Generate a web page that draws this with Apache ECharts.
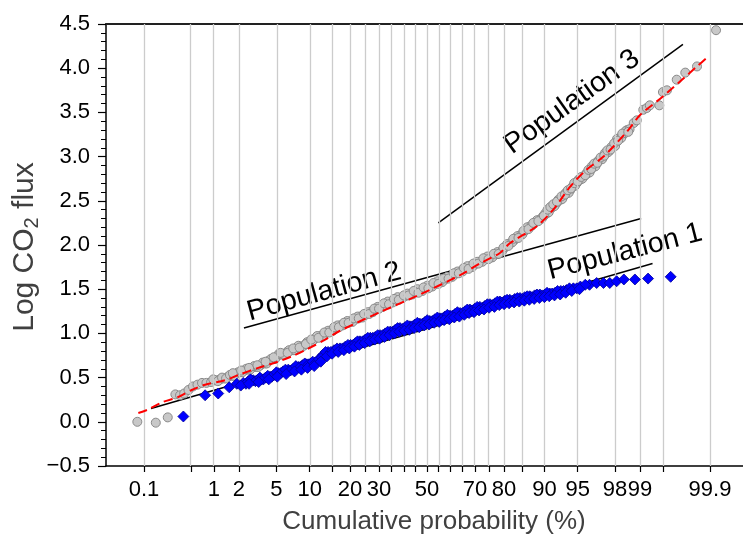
<!DOCTYPE html>
<html><head><meta charset="utf-8">
<script src="https://cdn.jsdelivr.net/npm/echarts@6/dist/echarts.min.js"></script>
<style>html,body{margin:0;padding:0;background:#fff}#c{width:743px;height:535px}</style>
</head><body><div id="c"></div>
<script>
// ---------- data ----------
const xTickLabels = ['0.1','1','2','5','10','20','30','50','70','80','90','95','98','99','99.9'];
const gridProbs = [0.1,0.5,1,2,5,10,15,20,25,30,35,40,45,50,55,60,65,70,75,80,85,90,95,98,99,99.5,99.9];
const xRangeProb = [0.0228, 99.972];
const yRange = [-0.5, 4.5];

// cumulative probability (%), log CO2 flux — all measurements
const grayData = [
 [0.078,0.00],[0.153,-0.01],[0.232,0.05],[0.30,0.31],[0.35,0.30],[0.40,0.32],[0.46,0.36],[0.53,0.40],
 [0.61,0.42],[0.70,0.44],[0.80,0.44],[0.92,0.45],[1.05,0.47],[1.19,0.48],[1.33,0.49],[1.49,0.51],
 [1.65,0.52],[1.85,0.54],[2.06,0.56],[2.3,0.58],[2.55,0.59],[2.8,0.61],[3.1,0.62],[3.45,0.64],
 [3.84,0.66],[4.2,0.69],[4.6,0.71],[5.07,0.74],[5.6,0.76],[6.3,0.79],[7.0,0.81],[7.7,0.83],
 [8.4,0.85],[9.1,0.87],[10.0,0.90],[11.0,0.94],[12.1,0.97],[13.4,1.00],[14.6,1.03],[15.8,1.06],
 [17.1,1.09],[18.5,1.11],[20.0,1.13],[21.6,1.16],[23.2,1.19],[25.0,1.21],[26.8,1.24],[28.6,1.27],
 [30.4,1.30],[32.4,1.33],[34.4,1.35],[36.4,1.38],[38.4,1.40],[40.5,1.42],[42.6,1.44],[44.7,1.47],
 [46.9,1.49],[49.1,1.51],[51.2,1.53],[53.4,1.56],[55.6,1.58],[57.7,1.61],[59.9,1.64],[62.0,1.67],
 [64.1,1.70],[66.1,1.73],[68.0,1.76],[69.9,1.78],[71.8,1.81],[73.6,1.84],[75.4,1.86],[77.1,1.89],
 [78.7,1.92],[80.2,1.97],[81.7,2.02],[83.1,2.06],[84.5,2.11],[85.7,2.16],[86.9,2.21],[88.0,2.25],
 [89.1,2.29],[89.8,2.33],[90.5,2.36],[91.0,2.40],[91.5,2.43],[92.1,2.47],[92.7,2.51],[93.2,2.55],
 [93.7,2.59],[94.1,2.62],[94.4,2.66],[94.9,2.70],[95.3,2.74],[95.7,2.78],[96.0,2.81],[96.3,2.85],
 [96.5,2.89],[96.8,2.92],[97.0,2.96],[97.3,3.00],[97.5,3.04],[97.7,3.07],[97.9,3.11],[98.05,3.16],
 [98.2,3.21],[98.4,3.25],[98.55,3.30],[98.8,3.38],[98.9,3.41],[99.09,3.53],[99.18,3.55],[99.25,3.58],
 [99.44,3.58],[99.50,3.73],[99.56,3.75],[99.68,3.87],[99.76,3.95],[99.84,4.02],[99.92,4.43],
 [0.98,0.48],[1.12,0.46],[1.26,0.50],[1.41,0.49],[1.57,0.53],[1.75,0.52],[1.95,0.56],[2.18,0.56],
 [2.42,0.60],[2.67,0.59],[2.95,0.63],[3.27,0.62],[3.64,0.67],[4.0,0.66],[4.4,0.71],[4.85,0.71],
 [5.3,0.77],[5.9,0.76],[6.6,0.81],[7.3,0.81],[8.0,0.86],[8.7,0.85],[9.5,0.90],[10.5,0.91],
 [11.5,0.97],[12.7,0.97],[14.0,1.03],[15.2,1.03],[16.4,1.09],[17.8,1.09],[19.2,1.14],[20.8,1.13],
 [22.4,1.19],[24.1,1.18],[25.9,1.24],[27.7,1.24],[29.5,1.30],[31.4,1.30],[33.4,1.36],[35.4,1.35],
 [37.4,1.41],[39.4,1.40],[41.5,1.45],[43.6,1.44],[45.8,1.50],[48.0,1.48],[50.1,1.54],[52.3,1.53],
 [54.5,1.59],[56.6,1.58],[58.8,1.64],[60.9,1.64],[63.0,1.70],[65.1,1.70],[67.0,1.76],[68.9,1.75],
 [70.8,1.81],[72.7,1.81],[74.5,1.87],[76.2,1.86],[77.9,1.92],[79.4,1.93],[80.9,2.01],[82.4,2.03],
 [83.8,2.10],[85.1,2.12],[86.3,2.20],[87.4,2.22],[88.5,2.28],[89.5,2.30],[90.2,2.36],[90.8,2.37],
 [91.3,2.43],[91.8,2.44],[92.4,2.51],[93.0,2.52],[93.5,2.59],[93.9,2.59],[94.3,2.65],[94.7,2.67],
 [95.1,2.74],[95.5,2.75],[95.9,2.81],[96.2,2.82],[96.4,2.89],[96.7,2.89],[96.9,2.95],[97.2,2.97],
 [97.4,3.04],[97.6,3.05],[97.8,3.11],[98.0,3.12],[98.1,3.20],[98.3,3.21],[98.5,3.29],[98.65,3.31],
 [1.7,0.55],[2.12,0.58],[2.6,0.61],[3.2,0.64],[3.9,0.68],[4.7,0.73],[5.5,0.78],[6.4,0.78],
 [7.2,0.83],[8.2,0.84],[9.3,0.88],[10.3,0.93],[11.8,0.95],[13.1,1.01],[14.3,1.01],[15.5,1.07],
 [16.8,1.07],[18.2,1.12],[19.6,1.12],[21.2,1.17],[22.8,1.17],[24.6,1.22],[26.4,1.22],[28.2,1.28],
 [30.0,1.28],[31.9,1.34],[33.9,1.33],[35.9,1.39],[37.9,1.38],[40.0,1.43],[42.1,1.43],[44.2,1.48],
 [46.3,1.46],[48.5,1.52],[50.6,1.51],[52.8,1.57],[55.0,1.56],[57.2,1.62],[59.3,1.62],[61.5,1.68],
 [63.6,1.68],[65.6,1.74],[67.5,1.73],[69.4,1.79],[71.3,1.79],[73.1,1.85],[74.9,1.84],[76.7,1.90],
 [78.3,1.90],[79.8,1.97],[81.3,1.99],[82.7,2.07],[84.1,2.08],[85.4,2.16],[86.6,2.18],[87.7,2.25],
 [88.8,2.27],[89.9,2.33],[90.6,2.40],[91.1,2.43],[91.6,2.46],[92.2,2.49],[92.9,2.55],[93.4,2.57],
 [93.8,2.62],[94.2,2.64],[94.6,2.70],[95.0,2.72],[95.4,2.77],[95.8,2.79],[96.1,2.85],[96.35,2.86],
 [96.6,2.92],[96.85,2.93],[97.1,2.99],[97.35,3.01],[97.55,3.07],[97.75,3.08],[97.95,3.15],[98.15,3.18],
 [98.35,3.26],[98.6,3.28]
];
// Population 1 measurements
const blueData = [
 [0.39,0.06],[0.77,0.30],[1.13,0.32],[1.54,0.39],[1.89,0.43],[2.24,0.44],[2.55,0.46],[2.89,0.47],
 [3.2,0.47],[3.55,0.48],[3.9,0.50],[4.33,0.51],[4.75,0.53],[5.22,0.55],[5.8,0.57],[6.49,0.59],
 [7.2,0.60],[7.99,0.62],[8.7,0.64],[9.44,0.65],[10.2,0.66],[11.07,0.67],[11.6,0.69],[12.1,0.71],
 [12.86,0.76],[14.0,0.79],[15.5,0.81],[17.1,0.83],[18.6,0.85],[20.2,0.87],[21.7,0.89],[23.2,0.91],
 [25.0,0.93],[26.8,0.95],[28.6,0.96],[30.4,0.98],[32.4,1.00],[34.4,1.02],[36.4,1.04],[38.4,1.06],
 [40.5,1.07],[42.6,1.08],[44.7,1.10],[46.9,1.11],[49.1,1.13],[51.2,1.14],[53.4,1.16],[55.6,1.17],
 [57.7,1.19],[59.9,1.20],[62.0,1.22],[64.1,1.23],[66.1,1.25],[68.0,1.27],[69.9,1.28],[71.8,1.30],
 [73.6,1.31],[75.4,1.33],[77.1,1.34],[78.7,1.36],[80.2,1.37],[81.7,1.38],[83.1,1.39],[84.5,1.40],
 [85.7,1.41],[86.9,1.42],[88.0,1.43],[89.1,1.44],[90.1,1.44],[91.0,1.45],[91.9,1.46],[92.8,1.48],
 [93.6,1.49],[94.5,1.51],[95.3,1.53],[96.2,1.55],[96.8,1.57],[97.3,1.57],[97.7,1.57],[98.08,1.59],
 [98.42,1.61],[98.84,1.61],[99.21,1.62],[99.61,1.64],
 [2.4,0.43],[2.7,0.48],[3.05,0.46],[3.4,0.50],[3.7,0.48],[4.1,0.52],[4.5,0.51],[5.0,0.56],
 [5.5,0.55],[6.1,0.59],[6.8,0.58],[7.6,0.63],[8.3,0.62],[9.1,0.66],[9.8,0.65],[10.6,0.68],
 [11.3,0.67],[11.9,0.71],[12.5,0.73],[13.4,0.79],[14.7,0.79],[16.3,0.83],[17.8,0.83],[19.4,0.87],
 [21.0,0.87],[22.4,0.91],[24.1,0.91],[25.9,0.95],[27.7,0.95],[29.5,0.98],[31.4,0.98],[33.4,1.02],
 [35.4,1.02],[37.4,1.06],[39.4,1.05],[41.5,1.09],[43.6,1.08],[45.8,1.12],[48.0,1.11],[50.1,1.15],
 [52.3,1.14],[54.5,1.18],[56.6,1.17],[58.8,1.21],[60.9,1.20],[63.0,1.24],[65.1,1.23],[67.0,1.27],
 [68.9,1.26],[70.8,1.30],[72.7,1.29],[74.5,1.33],[76.2,1.32],[77.9,1.36],[79.4,1.35],[80.9,1.38],
 [82.4,1.37],[83.8,1.40],[85.1,1.39],[86.3,1.42],[87.4,1.41],[88.5,1.44],[89.6,1.43],[90.5,1.46],
 [91.4,1.45],[92.3,1.48],[93.2,1.48],[94.0,1.51],[94.9,1.51],[95.8,1.55],
 [2.1,0.41],[2.6,0.43],[3.3,0.45],[4.2,0.48],[5.1,0.51],[6.2,0.54],[7.4,0.57],[8.5,0.59],
 [9.6,0.61],[10.9,0.63],[12.3,0.68],[13.7,0.74],[15.0,0.77],[16.6,0.79],[18.2,0.81],[19.8,0.83],
 [21.4,0.85],[23.0,0.87],[24.8,0.89],[26.6,0.91],[28.4,0.93],[30.2,0.94],[32.1,0.96],[34.1,0.98],
 [36.1,1.00],[38.1,1.02],[40.2,1.03],[42.3,1.04],[44.4,1.06],[46.6,1.07],[48.8,1.09],[50.9,1.10],
 [53.1,1.12],[55.3,1.13],[57.4,1.15],[59.6,1.16],[61.7,1.18],[63.8,1.19],[65.8,1.21],[67.7,1.23],
 [69.6,1.24],[71.5,1.26],[73.3,1.27],[75.1,1.29],[76.9,1.30],[78.5,1.32],[80.0,1.33],[81.5,1.34],
 [82.9,1.35],[84.3,1.36],[85.6,1.37],[86.8,1.38],[87.9,1.39],[89.0,1.40],[90.0,1.41],[90.9,1.42],
 [91.8,1.43],[92.7,1.44],[93.5,1.46],[94.3,1.48],[95.2,1.50]
];
// fitted mixture curve (red dashed)
const fitCurve = [
 [0.081,0.10],[0.117,0.14],[0.19,0.22],[0.33,0.28],[0.51,0.36],[0.77,0.42],[1.37,0.47],[1.97,0.53],
 [3.27,0.61],[5.2,0.68],[6.97,0.74],[9.15,0.81],[13.3,0.93],[17.1,1.03],[30.4,1.24],[46.9,1.44],
 [64.1,1.66],[71.8,1.79],[78.7,1.91],[81.7,2.02],[88.4,2.21],[91.6,2.40],[94.1,2.66],[95.9,2.85],
 [97.3,3.00],[98.6,3.30],[99.0,3.47],[99.5,3.68],[99.84,4.02],[99.893,4.13]
];
const pop1Line = [[0.129,0.15],[99.31,1.79]];
const pop2Line = [[2.28,1.06],[99.03,2.30]];
const pop3Line = [[54.9,2.25],[99.74,4.27]];
const popLabels = ['Population 1','Population 2','Population 3'];

// ---------- probability scale (inverse normal) ----------
function probit(pct){
  const p = pct/100;
  const a=[-3.969683028665376e+01,2.209460984245205e+02,-2.759285104469687e+02,1.383577518672690e+02,-3.066479806614716e+01,2.506628277459239e+00];
  const b=[-5.447609879822406e+01,1.615858368580409e+02,-1.556989798598866e+02,6.680131188771972e+01,-1.328068155288572e+01];
  const c=[-7.784894002430293e-03,-3.223964580411365e-01,-2.400758277161838e+00,-2.549671010638537e+00,4.374664141464968e+00,2.938163982698783e+00];
  const d=[7.784695709041462e-03,3.224671290700398e-01,2.445134137142996e+00,3.754408661907416e+00];
  const pl=0.02425, ph=1-pl; let q,r;
  if(p<pl){q=Math.sqrt(-2*Math.log(p));return (((((c[0]*q+c[1])*q+c[2])*q+c[3])*q+c[4])*q+c[5])/((((d[0]*q+d[1])*q+d[2])*q+d[3])*q+1);}
  if(p<=ph){q=p-0.5;r=q*q;return (((((a[0]*r+a[1])*r+a[2])*r+a[3])*r+a[4])*r+a[5])*q/(((((b[0]*r+b[1])*r+b[2])*r+b[3])*r+b[4])*r+1);}
  q=Math.sqrt(-2*Math.log(1-p));return -(((((c[0]*q+c[1])*q+c[2])*q+c[3])*q+c[4])*q+c[5])/((((d[0]*q+d[1])*q+d[2])*q+d[3])*q+1);
}
const toZ = arr => arr.map(([p,v]) => [probit(p), v]);
const labelZ = xTickLabels.map(s => probit(parseFloat(s)));
const gridZ = gridProbs.map(probit);

const FONT = 'Liberation Sans, Arial, Helvetica, sans-serif';
const chart = echarts.init(document.getElementById('c'), null, {renderer:'canvas'});
const lineSeries = (d) => ({
  type:'line', data: toZ(d), symbol:'none', silent:true, z:3,
  lineStyle:{color:'#000', width:1.5}
});
chart.setOption({
  animation:false,
  backgroundColor:'#fff',
  grid:{left:106, right:0, top:24, bottom:69, containLabel:false, outerBoundsMode:'none'},
  xAxis:[{
    type:'value', min:probit(xRangeProb[0]), max:probit(xRangeProb[1]), position:'bottom',
    axisLine:{show:true, onZero:false, lineStyle:{color:'#000', width:1.5}},
    axisTick:{show:true, customValues:gridZ, length:6, lineStyle:{color:'#000', width:1.2}},
    axisLabel:{show:true, customValues:labelZ, margin:13, fontSize:22, color:'#000', fontFamily:FONT,
      formatter: v => { let best=0; labelZ.forEach((z,i)=>{ if(Math.abs(z-v)<Math.abs(labelZ[best]-v)) best=i; }); return xTickLabels[best]; }},
    splitLine:{show:false}
  },{
    type:'value', min:probit(xRangeProb[0]), max:probit(xRangeProb[1]), position:'top',
    axisLine:{show:true, onZero:false, lineStyle:{color:'#222', width:2}},
    axisTick:{show:false}, axisLabel:{show:false}, splitLine:{show:false}
  }],
  yAxis:{
    type:'value', min:yRange[0], max:yRange[1], interval:0.5,
    axisLine:{show:true, onZero:false, lineStyle:{color:'#000', width:1.5}},
    axisTick:{show:true, length:8, lineStyle:{color:'#000', width:1.2}},
    minorTick:{show:true, splitNumber:5, length:5, lineStyle:{color:'#000', width:1}},
    axisLabel:{margin:16, fontSize:22, color:'#000', fontFamily:FONT,
      formatter: v => (v<0 ? '\u2212' : '') + Math.abs(v).toFixed(1)},
    splitLine:{show:false}
  },
  graphic:[
    {type:'text', x:25, y:247, rotation:Math.PI/2,
     style:{text:'{a|Log CO}{s|2}{a| flux}', align:'center', verticalAlign:'middle', fill:'#404040',
       rich:{a:{fontSize:30, fontFamily:FONT, fill:'#404040'}, s:{fontSize:20, fontFamily:FONT, fill:'#404040', padding:[14,0,0,0]}}}},
    {type:'text', x:434, y:522,
     style:{text:'Cumulative probability (%)', font:'26px '+FONT, fill:'#404040', align:'center', verticalAlign:'middle'}},
    {type:'text', x:625, y:252, rotation:14.4*Math.PI/180,
     style:{text:popLabels[0], font:'28.5px '+FONT, fill:'#000', align:'center', verticalAlign:'middle'}},
    {type:'text', x:324, y:292, rotation:15.3*Math.PI/180,
     style:{text:popLabels[1], font:'28.5px '+FONT, fill:'#000', align:'center', verticalAlign:'middle'}},
    {type:'text', x:572, y:102, rotation:35.5*Math.PI/180,
     style:{text:popLabels[2], font:'28.5px '+FONT, fill:'#000', align:'center', verticalAlign:'middle'}}
  ],
  series:[
    {type:'scatter', data:[], z:1, silent:true,
     markLine:{silent:true, symbol:['none','none'], label:{show:false}, animation:false,
       lineStyle:{color:'#cccccc', width:1.3, type:'solid'},
       data: gridZ.map(z => ({xAxis:z}))}},
    lineSeries(pop1Line), lineSeries(pop2Line), lineSeries(pop3Line),
    {type:'scatter', data:toZ(grayData), symbol:'circle', symbolSize:9, z:4, silent:true,
     itemStyle:{color:'#c8c8c8', borderColor:'#8a8a8a', borderWidth:1, opacity:1}},
    {type:'scatter', data:toZ(blueData), symbol:'diamond', symbolSize:11, z:5, silent:true,
     itemStyle:{color:'#0000ff', borderColor:'#00009a', borderWidth:0.8, opacity:1}},
    {type:'line', data:toZ(fitCurve), symbol:'none', smooth:0.3, z:6, silent:true,
     lineStyle:{color:'#ff0000', width:2, type:[9,5]}}
  ]
});
</script></body></html>
